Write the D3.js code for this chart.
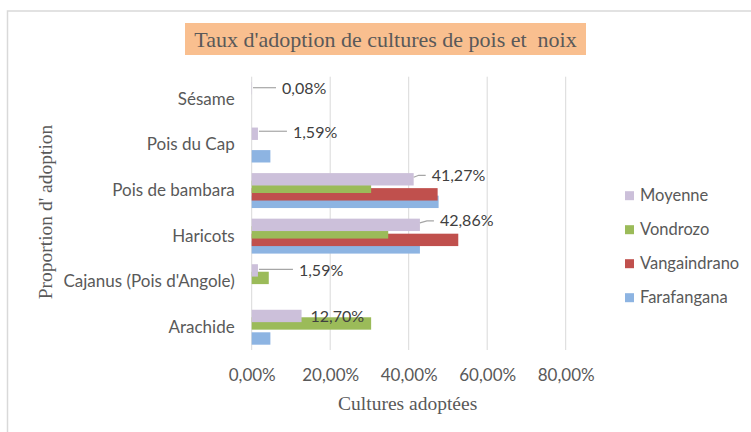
<!DOCTYPE html>
<html>
<head>
<meta charset="utf-8">
<script src="https://cdn.jsdelivr.net/npm/d3@7"></script>
<style>
  html, body { margin: 0; padding: 0; background: #fff; }
  svg { display: block; }
</style>
</head>
<body>
<svg id="chart" width="751" height="432"></svg>
<script>
// ---- Data ----
const categories = ["Arachide", "Cajanus (Pois d'Angole)", "Haricots", "Pois de bambara", "Pois du Cap", "Sésame"];
const seriesNames = ["Farafangana", "Vangaindrano", "Vondrozo", "Moyenne"];
const farafangana = [4.76, 0, 42.86, 47.62, 4.76, 0];
const vangaindrano = [0, 0, 52.63, 47.37, 0, 0];
const vondrozo = [30.43, 4.35, 34.78, 30.43, 0, 0];
const moyenne = [12.70, 1.59, 42.86, 41.27, 1.59, 0.08];
const xTicks = [0, 20, 40, 60, 80];
const titleText = "Taux d'adoption de cultures de pois et\u00a0 noix";
const xTitle = "Cultures adoptées";
const yTitle = "Proportion d' adoption";

// ---- Layout / style ----
const colors = { Farafangana: "#8DB4E2", Vangaindrano: "#C0504D", Vondrozo: "#9BBB59", Moyenne: "#CCC0DA" };
const seriesValues = { Farafangana: farafangana, Vangaindrano: vangaindrano, Vondrozo: vondrozo, Moyenne: moyenne };
const plot = { left: 251.7, right: 565.7, top: 76.7, bottom: 350 };
const sans = "Lato, 'Open Sans', sans-serif";
const serif = "'Liberation Serif', 'Times New Roman', serif";
const textColor = "#595959";
const sansSize = 17;

// label placement (offsets from bar end / band centre), per category index
const labelLayout = [
  { dx: 9, dy: 0, leader: false },     // Arachide
  { dx: 41, dy: 0, leader: true, bend: 0 },   // Cajanus
  { dx: 20, dy: -4, leader: true, bend: 7 },  // Haricots
  { dx: 18, dy: -4, leader: true, bend: 5 },  // Pois de bambara
  { dx: 35, dy: -1.5, leader: true, bend: 0 }, // Pois du Cap
  { dx: 30, dy: 0.5, leader: true, bend: 0 }   // Sésame
];

const svg = d3.select("#chart");

// Chart border
svg.append("path")
  .attr("d", "M7.5,432 L7.5,11 L751,11")
  .attr("fill", "none").attr("stroke", "#D9D9D9").attr("stroke-width", 1.5);

const x = d3.scaleLinear().domain([0, 80]).range([plot.left, plot.right]);
const topDown = categories.slice().reverse();
const y = d3.scaleBand().domain(topDown).range([plot.top, plot.bottom]);
const bw = y.bandwidth();
const barH = bw * 0.272;
const step = bw * 0.165;
const topOrder = ["Moyenne", "Vondrozo", "Vangaindrano", "Farafangana"];
const groupSpan = step * 3 + barH;
function barY(cat, s) {
  return y(cat) + bw / 2 - groupSpan / 2 + topOrder.indexOf(s) * step;
}

// gridlines
svg.append("g").selectAll("line").data(xTicks).join("line")
  .attr("x1", d => x(d)).attr("x2", d => x(d))
  .attr("y1", plot.top).attr("y2", plot.bottom)
  .attr("stroke", "#D9D9D9").attr("stroke-width", 1);

// x axis tick labels
const fr = d3.formatLocale({ decimal: ",", thousands: " ", grouping: [3], currency: ["", "€"] });
const fmt = fr.format(".2f");
const xAxis = d3.axisBottom(x).tickValues(xTicks).tickSize(0).tickPadding(0)
  .tickFormat(d => fmt(d) + "%");
const gx = svg.append("g").attr("transform", `translate(0,${plot.bottom + 19})`).call(xAxis);
gx.select(".domain").remove();
gx.selectAll("text").attr("font-family", sans).attr("font-size", sansSize).attr("fill", textColor);

// y axis labels
const yAxis = d3.axisLeft(y).tickSize(0).tickPadding(17);
const gy = svg.append("g").attr("transform", `translate(${plot.left},0)`).call(yAxis);
gy.select(".domain").remove();
gy.selectAll("text").attr("font-family", sans).attr("font-size", sansSize).attr("fill", textColor);

// bars, drawn Farafangana first so later series sit on top
seriesNames.forEach(s => {
  svg.append("g").selectAll("rect").data(categories.map((c, i) => ({ c, v: seriesValues[s][i] })))
    .join("rect")
    .attr("x", x(0))
    .attr("y", d => barY(d.c, s))
    .attr("width", d => Math.max(0, x(d.v) - x(0)))
    .attr("height", barH)
    .attr("fill", colors[s]);
});

// data labels for Moyenne
const lbl = svg.append("g");
categories.forEach((c, i) => {
  const v = moyenne[i];
  const L = labelLayout[i];
  const bx = x(v);
  const by = barY(c, "Moyenne") + barH / 2;
  const tx = bx + L.dx;
  const ty = by + L.dy;
  if (L.leader) {
    const pts = L.bend
      ? [[bx, by - 2], [bx + L.bend, ty], [tx - 6, ty]]
      : [[bx + 1, ty - 1], [tx - 6, ty - 1]];
    lbl.append("path")
      .attr("d", d3.line()(pts))
      .attr("fill", "none").attr("stroke", "#A6A6A6").attr("stroke-width", 1.2);
  }
  lbl.append("text")
    .attr("x", tx).attr("y", ty)
    .attr("dy", "0.35em")
    .attr("font-family", sans).attr("font-size", 16).attr("fill", "#404040")
    .text(fmt(v) + "%");
});

// title
const tb = { x: 185, y: 23, w: 401, h: 32 };
svg.append("rect").attr("x", tb.x).attr("y", tb.y).attr("width", tb.w).attr("height", tb.h).attr("fill", "#F9BF8F");
svg.append("text")
  .attr("x", tb.x + tb.w / 2).attr("y", tb.y + tb.h / 2).attr("dy", "0.35em")
  .attr("text-anchor", "middle")
  .attr("font-family", serif).attr("font-size", 22).attr("fill", textColor)
  .text(titleText);

// axis titles
svg.append("text")
  .attr("x", (plot.left + plot.right) / 2 - 1).attr("y", 403).attr("dy", "0.35em")
  .attr("text-anchor", "middle")
  .attr("font-family", serif).attr("font-size", 19.5).attr("fill", textColor)
  .text(xTitle);
svg.append("text")
  .attr("transform", "translate(45,212) rotate(-90)")
  .attr("dy", "0.35em")
  .attr("text-anchor", "middle")
  .attr("font-family", serif).attr("font-size", 19.5).attr("fill", textColor)
  .text(yTitle);

// legend
const legendNames = ["Moyenne", "Vondrozo", "Vangaindrano", "Farafangana"];
const lg = svg.append("g").selectAll("g").data(legendNames).join("g")
  .attr("transform", (d, i) => `translate(625,${195.7 + i * 34})`);
lg.append("rect").attr("x", 0).attr("y", -4.5).attr("width", 9).attr("height", 9).attr("fill", d => colors[d]);
lg.append("text").attr("x", 15).attr("dy", "0.35em")
  .attr("font-family", sans).attr("font-size", 16.5).attr("fill", textColor)
  .text(d => d);
</script>
</body>
</html>
